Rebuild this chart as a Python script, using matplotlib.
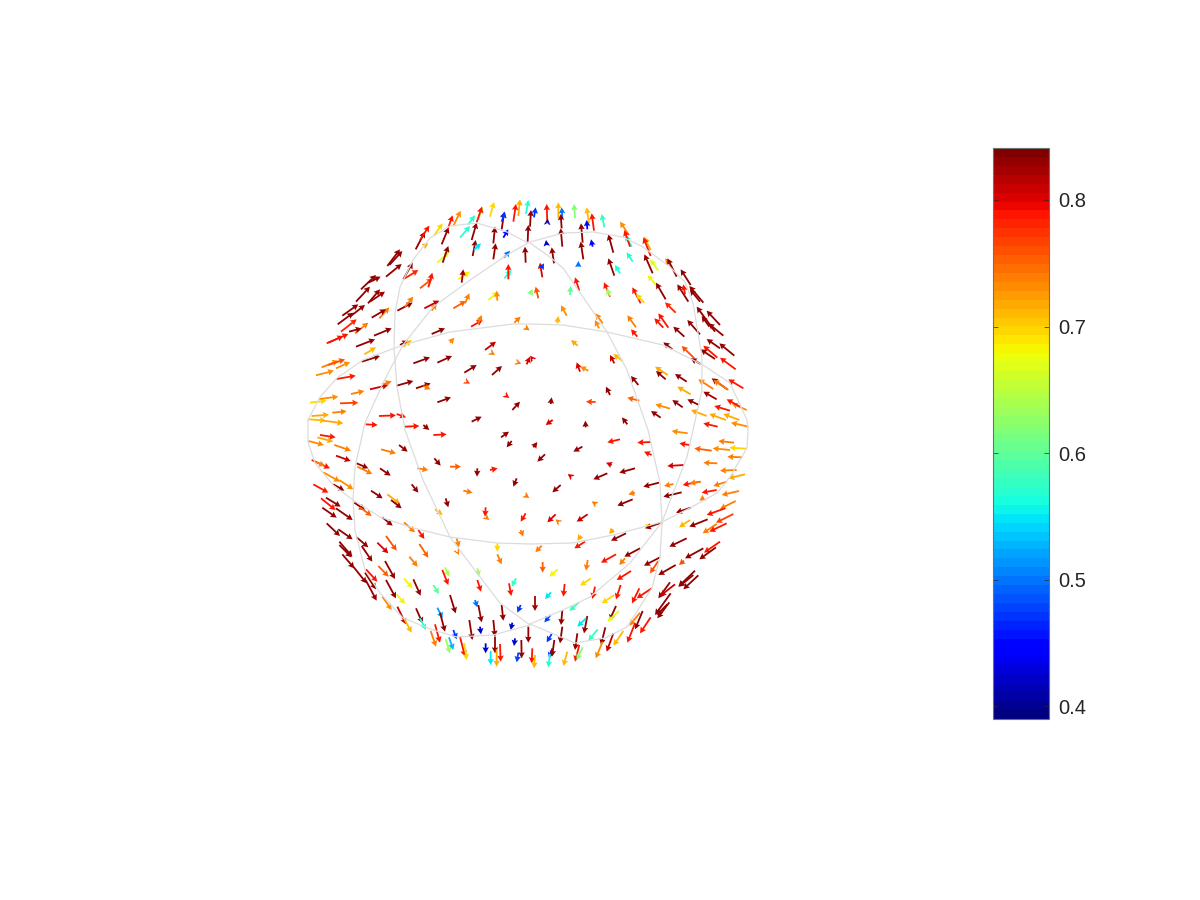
import numpy as np
import matplotlib
matplotlib.use('Agg')
import matplotlib.pyplot as plt
from matplotlib.cm import ScalarMappable
from matplotlib.colors import Normalize

plt.rcParams['font.family'] = ['Liberation Sans', 'DejaVu Sans']

# arrows, one table per quadrant:
# tail x, tail y, head x, head y (in 1/3 px from the quadrant corner), value
nw_arrows = [
    (347,178,375,125,.83),(360,150,388,107,.79),(373,168,385,160,.72),(403,136,428,100,.70),
    (425,163,446,112,.83),(443,118,458,76,.79),(460,108,482,62,.73),(480,143,510,108,.57),
    (505,103,525,76,.57),(515,150,530,98,.83),(535,90,548,50,.63),(530,97,546,50,.79),
    (570,80,582,36,.70),(518,198,527,150,.83),(522,180,543,160,.55),(412,218,448,185,.67),
    (428,218,445,168,.83),(580,160,585,110,.83),(580,208,587,160,.83),(605,118,613,65,.83),
    (605,95,615,65,.47),(640,95,648,42,.79),(655,78,660,28,.72),(610,143,625,118,.45),
    (678,72,685,30,.57),(683,155,685,105,.83),(677,218,675,170,.83),(612,203,630,182,.50),
    (613,265,635,240,.58),(625,268,625,222,.79),(475,268,510,245,.68),(485,278,490,238,.82),
    (360,295,398,265,.76),(385,292,397,248,.79),(310,268,338,218,.83),(315,265,355,240,.78),
    (262,228,300,178,.83),(268,225,307,183,.83),(258,260,305,222,.83),(183,298,228,255,.83),
    (205,278,242,260,.83),(168,335,210,290,.83),(204,340,240,298,.83),(210,335,255,305,.82),
    (127,377,175,343,.83),(113,403,160,368,.83),(150,380,195,345,.83),(123,425,170,388,.78),
    (165,430,205,398,.74),(147,425,185,415,.83),(80,460,145,432,.79),(85,458,130,438,.79),
    (238,385,268,352,.74),(215,383,258,358,.83),(222,437,275,415,.83),(292,362,338,338,.83),
    (315,350,340,320,.74),(395,362,410,340,.74),(373,355,418,332,.81),(460,355,498,333,.75),
    (495,340,508,310,.74),(565,330,595,305,.68),(592,332,590,302,.73),(168,470,225,448,.83),
    (193,493,228,472,.71),(185,515,240,498,.83),(300,465,325,452,.83),(310,470,335,450,.71),
    (395,432,435,415,.83),(513,410,548,390,.79),(535,400,545,375,.74),(643,398,662,380,.74),
    (450,458,463,443,.73),(555,480,588,455,.81),(574,488,585,495,.74),(340,520,390,502,.83),
    (412,518,456,498,.83),(493,548,530,525,.83),(576,555,606,528,.83),(65,532,115,512,.74),
    (85,525,135,508,.76),(108,535,150,516,.73),(48,556,102,542,.73),(110,567,167,557,.79),
    (153,612,193,603,.74),(210,598,265,585,.81),(248,583,275,574,.74),(290,587,340,573,.83),
    (348,595,392,580,.83),(370,588,392,598,.74),(499,575,510,581,.77),(412,637,453,622,.83),
    (617,616,628,624,.79),(637,660,660,635,.83),(652,517,664,521,.74),(680,523,690,500,.80),
    (677,413,689,421,.74),(30,638,80,632,.70),(57,627,115,620,.73),(120,640,175,638,.77),
    (35,678,87,674,.72),(97,668,140,664,.74),(28,688,78,692,.71),(70,692,130,700,.72),
    (237,678,288,676,.79),(290,672,318,682,.79),(197,703,233,705,.79),(315,710,358,708,.79),
    (515,695,545,680,.83),(370,705,388,720,.83),
]
ne_arrows = [
    (0,110,3,60,.83),(52,100,50,42,.79),(52,98,53,86,.42),(12,82,17,52,.47),(85,85,85,37,.71),
    (97,85,95,52,.50),(97,170,92,115,.83),(95,115,92,72,.83),(135,85,132,42,.62),(177,100,170,52,.71),
    (192,122,185,70,.79),(172,118,170,90,.45),(158,158,153,100,.83),(160,208,152,155,.83),
    (223,112,215,72,.58),(188,170,183,148,.45),(50,165,48,150,.42),(250,188,235,133,.83),
    (72,220,65,172,.83),(297,135,270,95,.73),(305,170,285,135,.56),(300,170,283,120,.79),
    (362,180,342,140,.72),(362,198,340,142,.79),(308,215,290,187,.56),(368,250,343,193,.83),
    (385,242,360,208,.67),(425,230,405,205,.73),(440,260,412,205,.83),(37,262,30,218,.80),
    (35,232,42,220,.47),(145,230,145,213,.50),(253,257,235,205,.83),(270,250,255,225,.56),
    (25,325,17,290,.76),(0,313,8,297,.62),(148,302,135,262,.79),(120,315,122,288,.60),
    (240,320,222,277,.79),(240,318,230,295,.63),(332,340,307,292,.79),(343,338,318,312,.70),
    (378,285,353,255,.68),(407,328,378,278,.83),(482,285,452,238,.83),(475,335,442,283,.83),
    (465,313,460,283,.79),(520,338,478,288,.83),(510,335,480,298,.83),(437,368,405,337,.78),
    (110,377,93,346,.73),(82,400,85,378,.71),(218,400,196,370,.74),(207,415,195,390,.73),
    (318,412,292,376,.74),(415,413,385,370,.79),(400,413,373,385,.79),(463,440,430,410,.83),
    (322,440,303,418,.79),(570,405,530,362,.83),(580,437,535,400,.83),(555,425,500,350,.83),
    (510,433,472,390,.83),(538,410,515,378,.83),(143,467,123,450,.72),(427,478,400,457,.83),
    (493,505,455,468,.76),(562,503,520,467,.79),(555,507,512,478,.83),(570,475,530,447,.83),
    (613,497,568,460,.83),(617,538,570,503,.79),(512,522,482,505,.83),(253,520,240,495,.81),
    (278,513,250,492,.71),(150,545,140,517,.80),(175,542,150,530,.73),(8,507,0,497,.80),
    (413,555,375,530,.72),(407,568,378,543,.83),(470,575,435,552,.83),(325,585,303,558,.83),
    (550,597,505,568,.74),(592,598,545,565,.83),(595,600,550,570,.74),(640,595,595,568,.79),
    (482,613,442,590,.72),(560,628,520,605,.82),(62,642,65,622,.83),(240,615,228,590,.83),
    (197,636,168,635,.77),(328,632,292,623,.75),(420,656,376,643,.73),(458,652,427,630,.83),
    (507,645,472,628,.83),(650,660,605,640,.73),(630,650,590,628,.79),(600,662,553,648,.79),
    (530,678,483,660,.72),(588,690,538,672,.72),(628,690,580,672,.72),(392,683,363,663,.83),
    (292,703,276,682,.83),(655,710,603,698,.73),(563,710,520,700,.79),(68,690,47,705,.80),
    (167,712,166,692,.83),
]
sw_arrows = [
    (60,15,107,22,.79),(52,22,100,35,.72),(25,33,72,45,.73),(103,45,153,62,.74),(243,58,288,70,.74),
    (297,45,323,65,.83),(108,77,152,93,.81),(35,90,90,115,.79),(45,95,75,108,.74),(170,100,205,115,.83),
    (172,110,217,132,.74),(240,115,272,137,.83),(352,115,385,120,.74),(403,85,422,107,.83),
    (450,110,483,110,.75),(400,15,440,13,.79),(603,22,627,5,.83),(635,33,620,52,.83),(532,115,531,140,.83),
    (570,120,593,115,.79),(490,182,518,188,.74),(650,145,640,170,.83),(676,196,688,204,.74),
    (70,127,120,155,.73),(118,150,160,178,.73),(100,163,133,182,.83),(40,163,85,188,.79),
    (335,163,355,188,.83),(213,182,248,205,.83),(262,193,300,222,.72),(273,210,305,235,.83),
    (163,218,195,240,.83),(180,232,215,258,.75),(78,203,122,230,.83),(63,205,107,240,.79),
    (67,233,110,263,.83),(108,235,158,270,.83),(437,205,445,232,.83),(405,238,428,255,.71),
    (557,232,555,260,.79),(558,262,568,270,.74),(677,250,662,275,.79),(247,262,278,287,.83),
    (312,277,345,307,.74),(355,300,373,327,.79),(662,300,670,320,.74),(80,280,120,318,.83),
    (115,298,158,328,.83),(170,322,205,352,.83),(258,318,290,362,.76),(232,338,265,370,.80),
    (358,342,385,383,.75),(470,325,477,352,.74),(472,365,477,375,.74),(592,340,592,365,.70),
    (592,373,605,403,.74),(118,335,157,380,.83),(118,345,155,382,.83),(185,348,217,395,.83),
    (127,373,163,415,.83),(160,410,200,460,.83),(198,418,232,455,.79),(235,408,266,440,.75),
    (255,393,285,447,.83),(328,380,353,410,.74),(195,428,228,478,.83),(197,450,230,512,.83),
    (435,412,448,440,.64),(427,420,445,465,.79),(532,415,537,440,.63),(532,450,543,485,.79),
    (648,445,635,470,.58),(627,460,634,498,.79),(312,445,338,475,.68),(340,448,362,497,.83),
    (258,450,288,505,.83),(400,465,417,492,.60),(290,493,315,522,.68),(247,500,275,540,.73),
    (450,495,467,550,.83),(525,510,532,532,.50),(535,525,545,577,.83),(605,525,610,572,.83),
    (662,525,652,548,.47),(292,530,318,583,.81),(348,535,368,580,.83),(360,565,378,600,.57),
    (412,533,428,565,.52),(420,548,435,605,.83),(312,565,335,608,.71),(508,570,517,630,.83),
    (580,570,585,620,.83),(540,590,543,613,.42),(637,578,632,600,.42),(685,590,685,638,.83),
    (460,600,470,628,.47),(392,603,408,650,.74),(405,583,420,638,.79),(447,622,460,660,.53),
    (437,627,450,670,.63),(480,620,495,680,.79),(493,640,500,690,.70),(585,620,585,670,.83),
    (645,625,642,648,.42),(557,640,557,670,.42),(572,663,572,705,.55),(600,642,602,695,.79),
    (590,658,590,710,.72),(664,630,665,685,.83),(655,668,650,697,.48),
]
# this one was read head first: head x, head y, tail x, tail y, value
se_arrows = [
    (22,36,10,52,.82),(130,65,157,50,.83),(232,37,270,28,.79),(322,38,363,36,.79),(342,65,365,75,.79),
    (425,3,473,10,.73),(448,40,478,45,.79),(565,33,612,38,.74),(598,53,650,56,.70),(548,55,600,60,.73),
    (493,55,545,62,.75),(592,80,637,82,.74),(520,98,562,100,.74),(22,95,45,73,.83),(228,98,245,105,.80),
    (412,108,462,105,.80),(113,132,124,140,.80),(190,148,232,130,.83),(268,128,315,115,.83),
    (570,122,620,120,.74),(458,165,510,155,.79),(478,160,513,155,.74),(340,170,387,158,.83),
    (402,168,430,162,.74),(595,145,645,133,.72),(550,168,590,155,.74),(67,187,92,165,.83),
    (295,193,315,188,.74),(515,188,560,180,.79),(575,195,627,183,.74),(400,200,455,187,.83),
    (508,212,522,203,.74),(185,214,197,222,.74),(262,227,308,208,.83),(438,248,482,233,.83),
    (570,237,617,213,.74),(530,255,585,235,.79),(52,277,77,253,.80),(76,268,86,276,.74),
    (140,275,173,253,.81),(447,292,480,270,.71),(478,290,533,268,.83),(558,278,610,252,.77),
    (518,310,560,282,.74),(538,305,590,280,.79),(345,283,356,288,.70),(345,295,397,277,.83),
    (237,312,250,298,.72),(243,332,288,310,.83),(142,332,153,317,.72),(133,355,165,335,.79),
    (16,367,35,347,.74),(418,350,470,325,.83),(283,380,330,355,.83),(213,398,258,373,.79),
    (465,385,520,355,.83),(447,405,462,392,.76),(522,368,570,335,.79),(508,388,558,352,.83),
    (342,407,390,382,.83),(268,405,285,385,.74),(360,430,385,393,.76),(385,435,437,405,.83),
    (38,428,38,396,.75),(58,440,83,418,.68),(168,422,173,390,.74),(150,467,183,445,.70),
    (260,450,303,423,.79),(445,470,495,422,.83),(460,478,505,436,.83),(447,470,490,435,.83),
    (385,505,420,457,.83),(390,498,435,463,.81),(100,500,104,462,.79),(187,507,195,470,.79),
    (306,520,328,475,.79),(320,505,365,475,.79),(258,508,272,465,.79),(215,520,253,495,.70),
    (45,507,63,487,.55),(15,543,15,498,.82),(118,543,147,517,.58),(375,555,422,490,.83),
    (382,565,418,517,.83),(380,555,412,523,.83),(93,585,97,540,.83),(162,610,172,558,.83),
    (142,590,168,565,.55),(43,577,62,555,.48),(238,572,258,528,.83),(232,575,267,543,.67),
    (298,587,330,548,.74),(315,598,338,543,.83),(330,610,362,562,.79),(292,638,315,580,.79),
    (90,640,97,590,.83),(213,645,226,592,.83),(175,632,203,598,.58),(250,647,280,603,.71),
    (50,637,65,612,.47),(230,665,250,610,.81),(135,660,142,610,.83),(57,685,67,655,.47),
    (66,680,73,630,.83),(135,695,148,645,.79),(140,690,158,652,.62),(197,685,218,635,.73),
    (100,708,112,665,.71),(55,712,60,672,.57),(5,700,7,655,.79),(12,715,15,675,.71),
]
quadrant_corners = [(300,190),(530,190),(300,430),(530,430)]

# wireframe of the sphere patches, in figure px
mesh_x = [
    [308,320,337,363,403,450,513,530,563,607,663,703,730,747,748,747,730,717,690,662,613,573,530,497,450,413,380,353,333,315,308,308],
    [530,550,563,583,607,627,648,660,662,660,652,627,605,575,530],
    [530,563,593,623,643,670,685,693,702,702,693,687,662,630,590,563,530],
    [528,507,473,433,403,383,365,355,353,355,365,380,403,433,457,493,530],
    [528,507,477,450,430,413,400,395,394,397,405,423,450,477,500,530],
]
mesh_y = [
    [420,397,378,360,345,332,324,324,325,332,345,365,383,420,430,448,477,493,508,522,535,543,544,543,537,528,517,500,485,463,442,420],
    [243,257,268,297,332,370,430,483,523,557,588,627,638,643,624],
    [242,233,232,237,247,267,282,303,357,390,430,457,522,563,597,610,624],
    [243,255,278,307,345,383,423,467,500,530,570,593,618,630,637,635,625],
    [243,232,223,226,238,260,287,313,347,387,430,480,537,573,603,625],
]
cbar_ticks = [0.4, 0.5, 0.6, 0.7, 0.8]
cbar_limits = (0.39, 0.841)

jet = plt.get_cmap('jet', 64)
norm = Normalize(*cbar_limits)

fig = plt.figure(figsize=(12, 9), dpi=100)
ax = fig.add_axes([0, 0, 1, 1])
ax.set_xlim(0, 1200)
ax.set_ylim(0, 900)
ax.axis('off')

for xs, ys in zip(mesh_x, mesh_y):
    ax.plot(xs, 900 - np.array(ys), color='#dcdcdc', lw=0.9, solid_joinstyle='round')

tails_x, tails_y, heads_x, heads_y, vals = [], [], [], [], []
tables = [np.array(nw_arrows, float), np.array(ne_arrows, float), np.array(sw_arrows, float),
          np.array(se_arrows, float)[:, [2, 3, 0, 1, 4]]]
for (cx, cy), t in zip(quadrant_corners, tables):
    tails_x.append(cx + t[:, 0] / 3)
    tails_y.append(900 - (cy + t[:, 1] / 3))
    heads_x.append(cx + t[:, 2] / 3)
    heads_y.append(900 - (cy + t[:, 3] / 3))
    vals.append(t[:, 4])
tails_x, tails_y = np.concatenate(tails_x), np.concatenate(tails_y)
heads_x, heads_y = np.concatenate(heads_x), np.concatenate(heads_y)
vals = np.concatenate(vals)

ax.quiver(tails_x, tails_y, heads_x - tails_x, heads_y - tails_y, vals, cmap=jet, norm=norm,
          angles='xy', scale_units='xy', scale=1, units='dots', width=1.8,
          headwidth=3.6, headlength=3.4, headaxislength=3.0, minshaft=0.6, minlength=0.1,
          antialiased=True, linewidth=0)

cax = fig.add_axes([993 / 1200, (900 - 719) / 900, 56 / 1200, 571 / 900])
cb = fig.colorbar(ScalarMappable(norm=norm, cmap=jet), cax=cax, ticks=cbar_ticks)
cb.ax.set_yticklabels(['%.1f' % t for t in cbar_ticks], color='#262626', fontsize=14.5)
cb.ax.tick_params(axis='y', direction='in', left=True, right=True, length=3.6, width=0.5,
                  color='#262626', pad=7)
cb.outline.set_edgecolor('#707070')
cb.outline.set_linewidth(0.8)

fig.savefig('out.png', dpi=100, facecolor='white')
